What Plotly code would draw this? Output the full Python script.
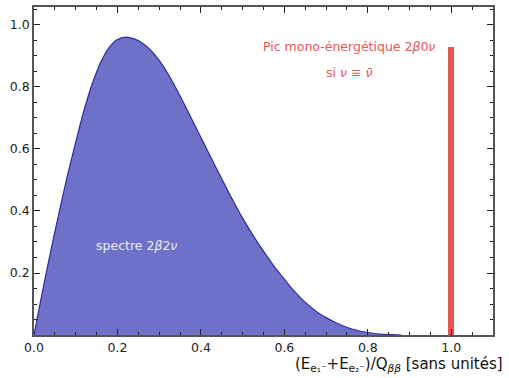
import plotly.graph_objects as go

# Spectrum 2β2ν (normalised sum energy)
x_spec = [0, 0.02, 0.04, 0.06, 0.08, 0.10, 0.12, 0.14, 0.16, 0.18, 0.20, 0.22,
          0.24, 0.26, 0.28, 0.30, 0.32, 0.34, 0.36, 0.38, 0.40, 0.42, 0.44, 0.46,
          0.48, 0.50, 0.52, 0.54, 0.56, 0.58, 0.60, 0.62, 0.64, 0.66, 0.68, 0.70,
          0.72, 0.74, 0.76, 0.78, 0.80, 0.82, 0.84, 0.86, 0.88]
y_spec = [0, 0.138, 0.270, 0.395, 0.513, 0.622, 0.725, 0.812, 0.880, 0.927, 0.953, 0.961,
          0.955, 0.941, 0.918, 0.886, 0.845, 0.797, 0.745, 0.691, 0.637, 0.583, 0.530, 0.477,
          0.426, 0.377, 0.332, 0.290, 0.251, 0.213, 0.180, 0.147, 0.118, 0.094, 0.073, 0.056,
          0.042, 0.030, 0.020, 0.013, 0.008, 0.004, 0.002, 0.001, 0]

# Mono-energetic peak 2β0ν
x_peak = [1.0]
y_peak = [0.93]

x_ticks = [0.0, 0.2, 0.4, 0.6, 0.8, 1.0]
x_ticklabels = ["0.0", "0.2", "0.4", "0.6", "0.8", "1.0"]
y_ticks = [0.2, 0.4, 0.6, 0.8, 1.0]
y_ticklabels = ["0.2", "0.4", "0.6", "0.8", "1.0"]

fig = go.Figure()
fig.add_trace(go.Scatter(
    x=x_spec, y=y_spec, mode="lines",
    line=dict(color="#2b2ba3", width=1.2, shape="spline", smoothing=0.8),
    fill="tozeroy", fillcolor="#6f70c8", hoverinfo="skip", showlegend=False))
fig.add_trace(go.Bar(
    x=x_peak, y=y_peak, width=0.014, marker=dict(color="#e85656", line=dict(width=0)),
    showlegend=False))

font = "DejaVu Sans"
axis_common = dict(
    showgrid=False, zeroline=False, showline=True, mirror="allticks", automargin=False,
    linecolor="#555555", linewidth=1.5, ticks="inside", ticklen=6, tickcolor="#222222",
    tickfont=dict(family=font, size=12.5, color="#222222"),
)
fig.update_xaxes(range=[0, 1.1], tickvals=x_ticks, ticktext=x_ticklabels,
                 minor=dict(dtick=0.05, tick0=0, ticks="inside", ticklen=3, tickcolor="#222222"),
                 **axis_common)
fig.update_yaxes(range=[0, 1.058], tickvals=y_ticks, ticktext=y_ticklabels,
                 minor=dict(dtick=0.05, tick0=0, ticks="inside", ticklen=3, tickcolor="#222222"),
                 **axis_common)

fig.add_annotation(x=0.245, y=0.29, xref="x", yref="y", showarrow=False,
                   text="spectre 2<i>β</i>2<i>ν</i>",
                   font=dict(family=font, size=12.5, color="#ececf8"))
fig.add_annotation(x=0.754, y=0.929, xref="x", yref="y", showarrow=False,
                   text="Pic mono-énergétique 2<i>β</i>0<i>ν</i>",
                   font=dict(family=font, size=12.5, color="#e85656"))
fig.add_annotation(x=0.754, y=0.848, xref="x", yref="y", showarrow=False,
                   text="si <i>ν</i> ≡ <i>ν̄</i>",
                   font=dict(family=font, size=12.5, color="#e85656"))
fig.add_annotation(x=1.027, y=-0.055, xref="paper", yref="paper", showarrow=False,
                   xanchor="right", yanchor="top",
                   text="(E<sub>e₁⁻</sub>+E<sub>e₂⁻</sub>)/Q<sub><i>ββ</i></sub> [sans unités]",
                   font=dict(family=font, size=15, color="#111111"))

fig.update_layout(
    width=509, height=378,
    margin=dict(l=34, r=16, t=7, b=43),
    paper_bgcolor="white", plot_bgcolor="white",
    bargap=0,
)
fig.write_html("out.html", config={"displayModeBar": False},
               post_script="document.body.style.margin='0';")
